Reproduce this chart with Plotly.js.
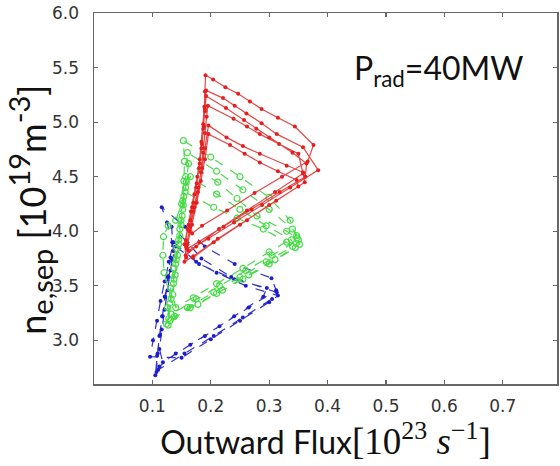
<!DOCTYPE html>
<html>
<head>
<meta charset="utf-8">
<script src="https://cdn.plot.ly/plotly-3.0.1.min.js"></script>
<style>html,body{margin:0;padding:0;background:#fff;}#chart{width:560px;height:466px;}</style>
</head>
<body>
<div id="chart"></div>
<script>
// Red series (solid, dots): six cycles, band ascent -> top line -> tip -> return
const redX = [
  0.158,0.155,0.160,0.166,0.172,0.177,0.181,0.184,0.187,0.189,0.190,0.191,
  0.204,0.225,0.247,0.267,0.287,0.315,0.344,0.376,
  0.366,0.322,0.275,0.228,0.185,0.168,
  0.165,0.170,0.176,0.181,0.185,0.188,0.190,0.192,
  0.221,0.241,0.261,0.287,0.313,0.358,
  0.384,0.336,0.288,0.240,0.196,0.162,
  0.157,0.162,0.168,0.175,0.180,0.184,0.187,0.190,0.192,
  0.226,0.257,0.278,0.300,0.340,0.364,
  0.362,0.318,0.270,0.222,0.180,0.160,
  0.163,0.170,0.178,0.183,0.187,0.190,0.193,0.195,
  0.239,0.262,0.284,0.317,0.350,
  0.358,0.310,0.262,0.214,0.175,0.157,
  0.158,0.165,0.172,0.179,0.185,0.190,0.196,
  0.227,0.255,0.284,0.330,0.358,
  0.361,0.312,0.262,0.212,0.170,0.155,
  0.160,0.168,0.176,0.183,0.190,0.196,
  0.233,0.258,0.284,0.315,0.347,
  0.350,0.300,0.250,0.205,0.170
];
const redY = [
  3.76,3.88,4.02,4.18,4.34,4.50,4.66,4.82,4.98,5.14,5.28,5.43,
  5.39,5.32,5.26,5.19,5.12,5.04,4.96,4.79,
  4.64,4.50,4.35,4.19,4.05,3.98,
  4.10,4.26,4.44,4.62,4.80,4.96,5.12,5.29,
  5.22,5.15,5.08,4.99,4.89,4.77,
  4.56,4.40,4.24,4.08,3.93,3.82,
  3.92,4.06,4.22,4.40,4.58,4.76,4.94,5.10,5.24,
  5.13,5.02,4.94,4.86,4.72,4.62,
  4.50,4.36,4.20,4.04,3.90,3.84,
  4.00,4.18,4.36,4.54,4.72,4.90,5.05,5.15,
  5.03,4.96,4.89,4.80,4.71,
  4.53,4.36,4.19,4.02,3.86,3.78,
  3.86,4.04,4.22,4.40,4.58,4.76,4.97,
  4.86,4.78,4.71,4.60,4.54,
  4.45,4.28,4.10,3.93,3.77,3.72,
  3.88,4.06,4.26,4.46,4.66,4.89,
  4.79,4.71,4.63,4.55,4.47,
  4.41,4.24,4.06,3.90,3.76
];

// Green series (dashed, open circles): five cycles
const greenX = [
  0.128,0.132,0.137,0.141,0.145,0.149,0.152,0.154,0.155,0.153,
  0.200,0.250,0.300,0.336,
  0.347,0.300,0.255,0.210,0.170,0.140,
  0.135,0.139,0.143,0.147,0.151,0.154,0.157,0.160,
  0.210,0.255,0.300,0.340,
  0.350,0.305,0.260,0.215,0.175,0.132,
  0.124,0.130,0.136,0.140,0.145,0.149,0.153,0.158,0.162,
  0.212,0.245,0.279,0.330,0.348,
  0.352,0.310,0.265,0.220,0.178,0.138,
  0.120,0.118,0.119,0.127,0.140,0.150,0.157,0.165,
  0.210,0.250,0.295,0.338,
  0.345,0.300,0.255,0.210,0.165,0.130,
  0.126,0.131,0.137,0.142,0.147,0.152,0.156,
  0.205,0.245,0.290,0.330,
  0.340,0.295,0.250,0.205,0.160,0.127
];
const greenY = [
  3.20,3.38,3.56,3.74,3.92,4.10,4.28,4.46,4.64,4.83,
  4.68,4.50,4.31,4.10,
  3.96,3.81,3.66,3.52,3.39,3.30,
  3.42,3.60,3.78,3.96,4.14,4.32,4.50,4.72,
  4.55,4.38,4.20,4.02,
  3.92,3.78,3.64,3.50,3.38,3.24,
  3.15,3.34,3.52,3.70,3.88,4.06,4.24,4.45,4.62,
  4.45,4.30,4.14,4.00,3.94,
  3.88,3.74,3.60,3.46,3.33,3.22,
  3.62,3.78,3.95,4.05,4.10,4.25,4.40,4.50,
  4.34,4.20,4.05,3.92,
  3.85,3.70,3.56,3.43,3.30,3.18,
  3.30,3.48,3.66,3.84,4.02,4.20,4.36,
  4.22,4.12,4.02,3.90,
  3.86,3.72,3.58,3.44,3.30,3.14
];

// Blue series (dashed, dots): four cycles
const blueX = [
  0.107,0.109,0.113,0.117,0.121,0.126,0.131,0.134,0.125,0.116,
  0.156,0.190,0.241,0.304,
  0.312,0.265,0.215,0.165,0.118,
  0.112,0.116,0.121,0.126,0.131,0.136,0.133,
  0.160,0.184,0.235,0.313,
  0.305,0.255,0.205,0.155,0.110,
  0.105,0.108,0.112,0.117,0.122,0.128,0.134,0.140,
  0.175,0.210,0.260,0.315,
  0.300,0.250,0.200,0.150,0.096,
  0.101,0.108,0.114,0.121,0.128,0.136,
  0.180,0.240,0.296,
  0.290,0.240,0.190,0.140,0.112
];
const blueY = [
  2.71,2.88,3.05,3.22,3.40,3.58,3.76,3.90,4.08,4.22,
  4.04,3.86,3.70,3.57,
  3.46,3.30,3.13,2.96,2.80,
  2.92,3.10,3.28,3.46,3.64,3.82,4.04,
  3.90,3.75,3.58,3.44,
  3.38,3.21,3.04,2.88,2.73,
  2.68,2.86,3.04,3.22,3.40,3.58,3.74,3.86,
  3.72,3.62,3.50,3.41,
  3.35,3.18,3.01,2.84,2.85,
  3.00,3.18,3.36,3.54,3.72,3.90,
  3.70,3.56,3.48,
  3.40,3.22,3.04,2.88,2.76
];

const xTicks = [0.1,0.2,0.3,0.4,0.5,0.6,0.7];
const yTicks = [3.0,3.5,4.0,4.5,5.0,5.5,6.0];

const traces = [
  {x: blueX, y: blueY, type: 'scatter', mode: 'lines+markers', name: 'blue',
   line: {color: 'rgb(50,50,205)', width: 1.2, dash: 'dash'},
   marker: {color: 'rgb(30,30,200)', size: 4}},
  {x: greenX, y: greenY, type: 'scatter', mode: 'lines+markers', name: 'green',
   line: {color: 'rgb(80,215,80)', width: 1.2, dash: 'dash'},
   marker: {color: 'rgb(70,220,70)', size: 6, symbol: 'circle-open', line: {width: 1.2}}},
  {x: redX, y: redY, type: 'scatter', mode: 'lines+markers', name: 'red',
   line: {color: 'rgb(228,70,70)', width: 1.2},
   marker: {color: 'rgb(230,30,30)', size: 4}}
];

const axisCommon = {
  showline: true, linecolor: '#666', linewidth: 1.5, mirror: 'ticks',
  ticks: 'inside', ticklen: 4, tickcolor: '#666', tickwidth: 1.2,
  showgrid: false, zeroline: false,
  tickfont: {family: 'DejaVu Sans', size: 17, color: '#333'}
};

const layout = {
  width: 560, height: 466,
  margin: {l: 94, r: 3, t: 13, b: 82},
  paper_bgcolor: '#fff', plot_bgcolor: '#fff',
  showlegend: false,
  xaxis: Object.assign({}, axisCommon, {
    range: [0, 0.793], tickvals: xTicks, ticktext: xTicks.map(v => v.toFixed(1)),
    ticklabelstandoff: 6,
    title: {text: 'Outward Flux<span style="font-family:Liberation Serif;font-size:37px">[10<sup>23</sup> <i>s</i><sup>−1</sup>]</span>',
            font: {family: 'Lato', size: 32, color: '#111'}, standoff: 8}
  }),
  yaxis: Object.assign({}, axisCommon, {
    range: [2.6, 6.0], tickvals: yTicks, ticktext: yTicks.map(v => v.toFixed(1)),
    ticklabelstandoff: 10
  }),
  annotations: [
    {
      xref: 'paper', yref: 'paper', x: 0.743, y: 0.846, xanchor: 'center', yanchor: 'middle',
      text: 'P<sub>rad</sub>=40MW', showarrow: false,
      font: {family: 'Lato', size: 32, color: '#111'}
    },
    {
      xref: 'paper', yref: 'paper', x: -0.138, y: 0.47, xanchor: 'center', yanchor: 'middle',
      textangle: -90, showarrow: false,
      text: 'n<sub><span style="font-size:29px">e,sep</span></sub> [10<sup><span style="font-size:29px">19</span></sup>m<sup><span style="font-size:29px">-3</span></sup>]',
      font: {family: 'Lato', size: 36, color: '#111'}
    }
  ]
};

Plotly.newPlot('chart', traces, layout, {displayModeBar: false, staticPlot: true});
</script>
</body>
</html>
